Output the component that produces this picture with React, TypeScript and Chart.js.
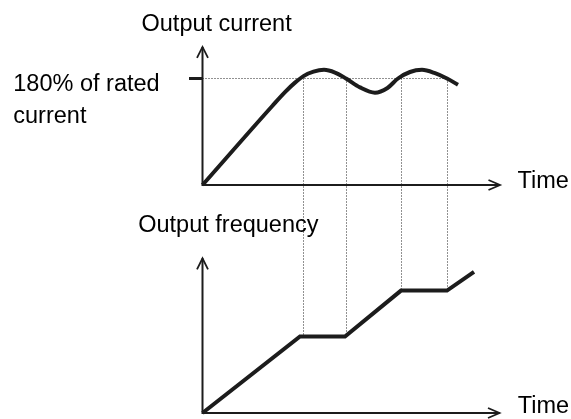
import React, { useEffect, useRef } from "react";
import { Chart, registerables } from "chart.js";

Chart.register(...registerables);

// ---- text ----
const titleCurrent = "Output current";
const titleFrequency = "Output frequency";
const ratedLabel = ["180% of rated", "current"];
const timeLabel = "Time";

// ---- data (time in arbitrary units, current in %, frequency in arbitrary units) ----
const ratedCurrent = 180;
const currentTime = [0, 14, 16.5, 18.5, 20.2, 22.2, 24.3, 26.5, 28.7, 31.5, 34.5, 37, 39.1, 41.5, 43.9, 46.5, 48.9, 51.1];
const currentValue = [0, 134, 157, 173, 184, 191.5, 194.6, 190, 180, 165, 156, 164, 180, 191, 194.6, 189, 180, 169.4];
const freqTime = [0, 19.5, 28.5, 39.7, 48.9, 54.3];
const freqValue = [0, 50, 50, 80, 80, 92.2];
const markerTime = [20, 28.7, 39.7, 48.9];
const markerFreq = [50, 50, 80, 80];
const currentAxisTop = 233.3;
const freqAxisTop = 101.1;
const timeAxisEnd = [59.5, 59.4];

const FONT = '23.5px "Liberation Sans", Arial, sans-serif';
const INK = "#1c1c1c";
const DOT = "#222";
const DASH = [1, 2];

function pts(xs: number[], ys: number[]) {
  return xs.map((x, i) => ({ x, y: ys[i] }));
}

const diagramPlugin = {
  id: "diagram",
  beforeDatasetsDraw(chart: any) {
    const ctx = chart.ctx;
    const x = chart.scales.x;
    const yC = chart.scales.yC;
    const yF = chart.scales.yF;
    ctx.save();
    ctx.strokeStyle = DOT;
    ctx.lineWidth = 1;
    ctx.setLineDash(DASH);
    const yTop = yC.getPixelForValue(ratedCurrent);
    markerTime.forEach((t, i) => {
      const px = Math.round(x.getPixelForValue(t)) + 0.5;
      ctx.beginPath();
      ctx.moveTo(px, yTop);
      ctx.lineTo(px, yF.getPixelForValue(markerFreq[i]));
      ctx.stroke();
    });
    ctx.restore();
  },
  afterDatasetsDraw(chart: any) {
    const ctx = chart.ctx;
    const x = chart.scales.x;
    const yC = chart.scales.yC;
    const yF = chart.scales.yF;
    const ox = x.getPixelForValue(0);
    const oyC = yC.getPixelForValue(0);
    const oyF = yF.getPixelForValue(0);
    ctx.save();
    ctx.strokeStyle = INK;
    ctx.lineWidth = 1.8;
    ctx.lineCap = "butt";
    ctx.lineJoin = "miter";
    const up = (px: number, py: number) => {
      ctx.beginPath();
      ctx.moveTo(px - 5.5, py + 11);
      ctx.lineTo(px, py);
      ctx.lineTo(px + 5.5, py + 11);
      ctx.stroke();
    };
    const right = (px: number, py: number) => {
      ctx.beginPath();
      ctx.moveTo(px - 11.5, py - 5);
      ctx.lineTo(px, py);
      ctx.lineTo(px - 11.5, py + 5);
      ctx.stroke();
    };
    up(ox, yC.getPixelForValue(currentAxisTop));
    up(ox, yF.getPixelForValue(freqAxisTop));
    right(x.getPixelForValue(timeAxisEnd[0]), oyC);
    right(x.getPixelForValue(timeAxisEnd[1]), oyF);

    // rated tick
    const yr = yC.getPixelForValue(ratedCurrent);
    ctx.lineWidth = 3;
    ctx.beginPath();
    ctx.moveTo(ox - 13.5, yr);
    ctx.lineTo(ox, yr);
    ctx.stroke();

    // labels
    ctx.fillStyle = "#000";
    ctx.font = FONT;
    ctx.textAlign = "left";
    ctx.textBaseline = "alphabetic";
    const topC = yC.getPixelForValue(currentAxisTop);
    const topF = yF.getPixelForValue(freqAxisTop);
    ctx.fillText(titleCurrent, ox - 61, topC - 16.3);
    ctx.fillText(titleFrequency, ox - 64.3, topF - 26);
    ctx.fillText(ratedLabel[0], 13.3, yr + 12.2);
    ctx.fillText(ratedLabel[1], 13.3, yr + 44.5);
    ctx.fillText(timeLabel, x.getPixelForValue(timeAxisEnd[0]) + 17.5, oyC + 2.7);
    ctx.fillText(timeLabel, x.getPixelForValue(timeAxisEnd[1]) + 18.2, oyF + 0.3);
    ctx.restore();
  },
};

export default function App() {
  const ref = useRef<HTMLCanvasElement | null>(null);
  useEffect(() => {
    if (!ref.current) return;
    const chart = new Chart(ref.current, {
      type: "line",
      data: {
        datasets: [
          {
            label: "current",
            data: pts(currentTime, currentValue),
            yAxisID: "yC",
            borderColor: INK,
            borderWidth: 4,
            cubicInterpolationMode: "monotone",
            pointRadius: 0,
            fill: false,
            order: 1,
          },
          {
            label: "frequency",
            data: pts(freqTime, freqValue),
            yAxisID: "yF",
            borderColor: INK,
            borderWidth: 4,
            tension: 0,
            borderJoinStyle: "miter",
            pointRadius: 0,
            fill: false,
            order: 1,
          },
          {
            label: "rated",
            data: [
              { x: 0, y: ratedCurrent },
              { x: markerTime[markerTime.length - 1], y: ratedCurrent },
            ],
            yAxisID: "yC",
            borderColor: DOT,
            borderWidth: 1,
            borderDash: DASH,
            pointRadius: 0,
            fill: false,
            order: 3,
          },
          {
            label: "axisC",
            data: [
              { x: 0, y: currentAxisTop },
              { x: 0, y: 0 },
              { x: timeAxisEnd[0], y: 0 },
            ],
            yAxisID: "yC",
            borderColor: INK,
            borderWidth: 2,
            borderJoinStyle: "miter",
            pointRadius: 0,
            fill: false,
            order: 2,
          },
          {
            label: "axisF",
            data: [
              { x: 0, y: freqAxisTop },
              { x: 0, y: 0 },
              { x: timeAxisEnd[1], y: 0 },
            ],
            yAxisID: "yF",
            borderColor: INK,
            borderWidth: 2,
            borderJoinStyle: "miter",
            pointRadius: 0,
            fill: false,
            order: 2,
          },
        ],
      },
      options: {
        animation: false,
        responsive: false,
        devicePixelRatio: 1,
        layout: { padding: 0 },
        plugins: { legend: { display: false }, tooltip: { enabled: false } },
        events: [],
        scales: {
          x: { type: "linear", min: -40.5, max: 73.7, display: false },
          yC: { type: "linear", min: -395.49, max: 312.68, display: false },
          yF: { type: "linear", min: -3.92, max: 269.9, display: false },
        },
      } as any,
      plugins: [diagramPlugin],
    });
    return () => chart.destroy();
  }, []);
  return (
    <div style={{ position: "absolute", left: 0, top: 0, width: 571, height: 419, background: "#fff" }}>
      <canvas ref={ref} width={571} height={419} style={{ display: "block" }} />
    </div>
  );
}
